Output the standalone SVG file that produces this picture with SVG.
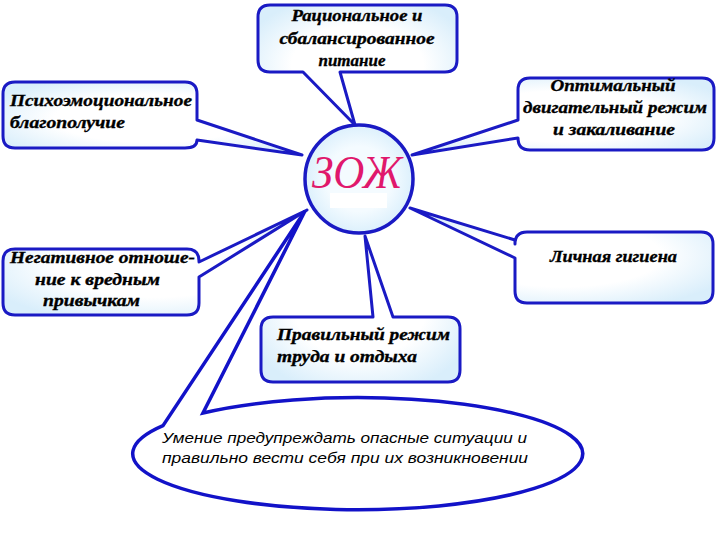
<svg xmlns="http://www.w3.org/2000/svg" width="720" height="540" viewBox="0 0 720 540">
<defs>
<radialGradient id="bub" cx="50%" cy="50%" r="60%">
<stop offset="0.55" stop-color="#ffffff"/>
<stop offset="1" stop-color="#d9eefb"/>
</radialGradient>
<radialGradient id="circ" cx="50%" cy="50%" r="50%">
<stop offset="0.6" stop-color="#f4fbff"/>
<stop offset="1" stop-color="#dcf0fc"/>
</radialGradient>
<style>
.call{fill:url(#bub);stroke:#1a1ac4;stroke-width:3;stroke-linejoin:round}
.lbl{font-family:"Liberation Serif","DejaVu Serif",serif;font-weight:bold;font-style:italic;font-size:17px;fill:#000;stroke:#000;stroke-width:0.35}
.oval{fill:#fff;stroke:#1212c8;stroke-width:3.5;stroke-linejoin:miter}
.otx{font-family:"Liberation Sans",Arial,sans-serif;font-style:italic;font-size:14px;fill:#000}
</style>
</defs>
<rect width="720" height="540" fill="#fff"/>

<g id="connectors">
<path class="call" d="M270,5 H445 Q457,5 457,17 V60 Q457,72 445,72 H340 L355,125 L303,72 H270 Q258,72 258,60 V17 Q258,5 270,5 Z"/>
<path class="call" d="M15,82 H185 Q197,82 197,94 V120 L302,155 L197,140 Q197,148 185,148 H15 Q3,148 3,136 V94 Q3,82 15,82 Z"/>
<path class="call" d="M530,78 H702 Q714,78 714,90 V138 Q714,150 702,150 H530 Q518,150 518,138 L412,155 L518,120 V90 Q518,78 530,78 Z"/>
<path class="call" d="M15,249 H187 Q199,249 199,261 V262 L307,210 L199,277 V303 Q199,315 187,315 H15 Q3,315 3,303 V261 Q3,249 15,249 Z"/>
<path class="call" d="M527,232 H701 Q713,232 713,244 V291 Q713,303 701,303 H527 Q515,303 515,291 V258 L410,208 L515,240 V244 Q515,232 527,232 Z"/>
<path class="call" d="M273,317 H373 L365,236 L393,317 H448 Q460,317 460,329 V370 Q460,382 448,382 H273 Q261,382 261,370 V329 Q261,317 273,317 Z"/>
<path class="oval" d="M203,413 A225,56 0 1 1 163,425.6 L305,211 Z"/>
</g>

<g id="n-center">
<circle cx="359" cy="179" r="54" fill="url(#circ)" stroke="#1a1ac4" stroke-width="3.5"/>
<rect x="330" y="193" width="57" height="15" fill="#fff"/>
<text x="357" y="188" text-anchor="middle" font-family="'Liberation Serif','DejaVu Serif',serif" font-style="italic" font-size="46" fill="#e0186c" textLength="90" lengthAdjust="spacingAndGlyphs">ЗОЖ</text>
</g>

<g id="n-nutrition">
<text class="lbl" x="357" y="21" text-anchor="middle" textLength="131" lengthAdjust="spacingAndGlyphs">Рациональное и</text>
<text class="lbl" x="357" y="44" text-anchor="middle" textLength="155" lengthAdjust="spacingAndGlyphs">сбалансированное</text>
<text class="lbl" x="352" y="66" text-anchor="middle">питание</text>
</g>

<g id="n-psycho">
<text class="lbl" x="10" y="106" textLength="182" lengthAdjust="spacingAndGlyphs">Психоэмоциональное</text>
<text class="lbl" x="10" y="128" textLength="115" lengthAdjust="spacingAndGlyphs">благополучие</text>
</g>

<g id="n-motor">
<text class="lbl" x="613" y="91" text-anchor="middle" textLength="125" lengthAdjust="spacingAndGlyphs">Оптимальный</text>
<text class="lbl" x="615" y="113" text-anchor="middle" textLength="184" lengthAdjust="spacingAndGlyphs">двигательный режим</text>
<text class="lbl" x="614" y="135" text-anchor="middle" textLength="122" lengthAdjust="spacingAndGlyphs">и закаливание</text>
</g>

<g id="n-habits">
<text class="lbl" x="10" y="263" textLength="185" lengthAdjust="spacingAndGlyphs">Негативное отноше-</text>
<text class="lbl" x="35" y="285" textLength="125" lengthAdjust="spacingAndGlyphs">ние к вредным</text>
<text class="lbl" x="43" y="306" textLength="97" lengthAdjust="spacingAndGlyphs">привычкам</text>
</g>

<g id="n-hygiene">
<text class="lbl" x="550" y="262" textLength="127" lengthAdjust="spacingAndGlyphs">Личная гигиена</text>
</g>

<g id="n-work">
<text class="lbl" x="277" y="340" textLength="173" lengthAdjust="spacingAndGlyphs">Правильный режим</text>
<text class="lbl" x="277" y="362" textLength="140" lengthAdjust="spacingAndGlyphs">труда и отдыха</text>
</g>

<g id="n-danger">
<text class="otx" x="162" y="443" textLength="365" lengthAdjust="spacingAndGlyphs">Умение предупреждать опасные ситуации и</text>
<text class="otx" x="162" y="463" textLength="366" lengthAdjust="spacingAndGlyphs">правильно вести себя при их возникновении</text>
</g>
</svg>
